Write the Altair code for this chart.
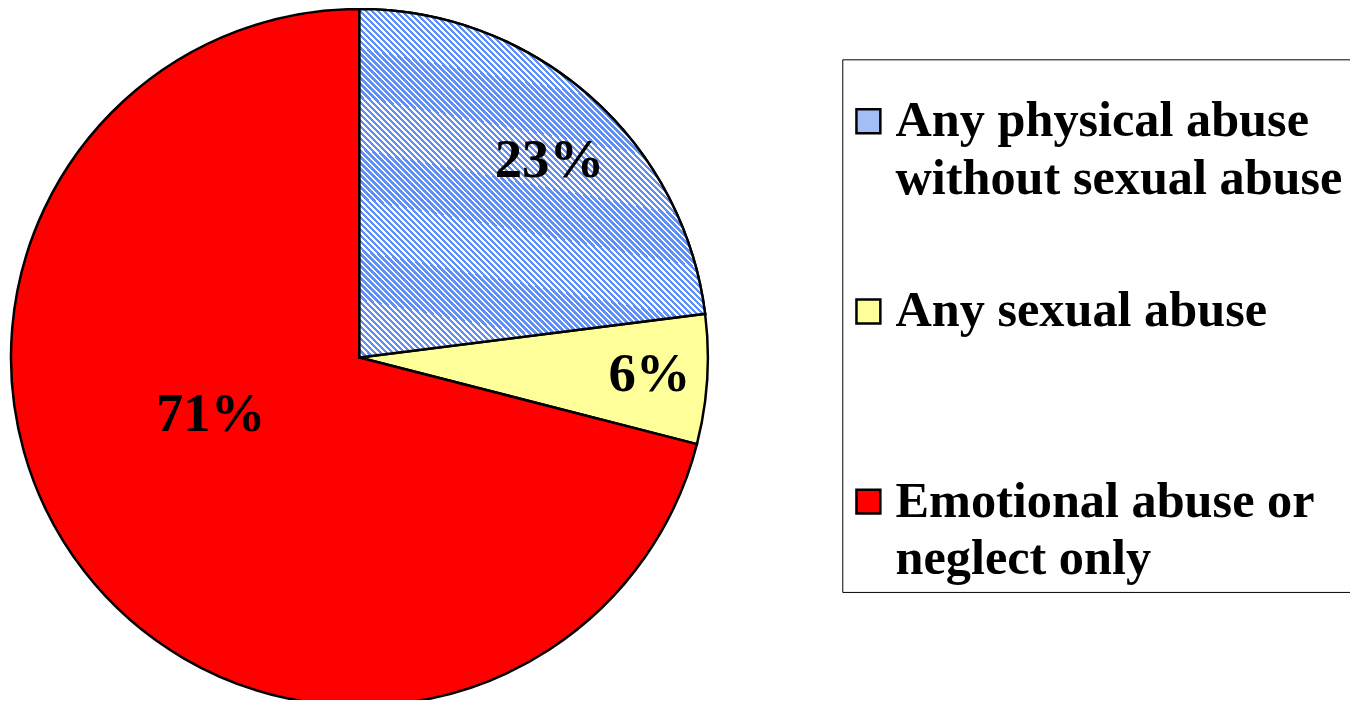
import altair as alt
import pandas as pd

# ---- data ----
categories = [
    "Any physical abuse\nwithout sexual abuse",
    "Any sexual abuse",
    "Emotional abuse or\nneglect only",
]
values = [23, 6, 71]
labels = ["23%", "6%", "71%"]
order = [0, 1, 2]

# ---- styles ----
colors = ["#a3bdf5", "#ffff99", "#ff0000"]
stripe_blue = "#6090f7"
N = 115
FRAC = 0.58
stops = []
for i in range(N):
    a, m, b = i / N, (i + FRAC) / N, (i + 1) / N
    stops += [
        {"offset": a, "color": stripe_blue},
        {"offset": m, "color": stripe_blue},
        {"offset": m, "color": "#ffffff"},
        {"offset": b, "color": "#ffffff"},
    ]
stripe_fill = {"gradient": "linear", "x1": 0, "y1": 1, "x2": 1, "y2": 0, "stops": stops}

df = pd.DataFrame({"category": categories, "value": values, "label": labels, "order": order})

base = (
    alt.Chart(df)
    .transform_window(cum="sum(value)", sort=[alt.SortField("order")], frame=[None, 0])
    .transform_joinaggregate(total="sum(value)")
    .transform_calculate(
        start="2*PI*(datum.cum - datum.value)/datum.total",
        end="2*PI*datum.cum/datum.total",
        mid="PI*(2*datum.cum - datum.value)/datum.total",
    )
)

R = 350
FONT = "Liberation Serif"

legend = alt.Legend(
    orient="none",
    legendX=838,
    legendY=50,
    title=" ",
    titleFontSize=22,
    titlePadding=8,
    symbolType="square",
    symbolSize=576,
    symbolStrokeColor="black",
    symbolStrokeWidth=2.5,
    symbolOpacity=1,
    symbolOffset=-6,
    labelFont=FONT,
    labelFontWeight="bold",
    labelFontSize=50.5,
    labelColor="black",
    labelLimit=1000,
    labelOffset=2,
    labelBaseline="middle",
    labelExpr="length(split(datum.label, '\\n')) > 1 ? split(datum.label, '\\n') : [datum.label, '']",
    rowPadding=82,
    padding=7,
    strokeColor="black",
    fillColor="white",
)

pie = base.mark_arc(radius=R, stroke="black", strokeWidth=2.5).encode(
    theta=alt.Theta("start:Q", scale=None),
    theta2="end:Q",
    fill=alt.Fill(
        "category:N",
        scale=alt.Scale(domain=categories, range=colors),
        sort=categories,
        legend=legend,
    ),
)

stripes = (
    base.transform_filter(alt.datum.order == 0)
    .mark_arc(radius=R, stroke="black", strokeWidth=2.5, fill=stripe_fill)
    .encode(theta=alt.Theta("start:Q", scale=None), theta2="end:Q")
)


def label_layer(i, r, dx, dy):
    return (
        base.transform_filter(alt.datum.order == i)
        .mark_text(
            radius=r, dx=dx, dy=dy, font=FONT, fontWeight="bold", fontSize=55,
            baseline="middle", align="center", color="black",
        )
        .encode(theta=alt.Theta("mid:Q", scale=None), text="label:N")
    )


chart = (
    alt.layer(
        pie,
        stripes,
        label_layer(0, 275, 9, 8),
        label_layer(1, 292, 0, -2),
        label_layer(2, 160, -23, -41),
    )
    .properties(
        width=706,
        height=699,
        padding={"left": 0, "top": 0, "right": 642, "bottom": -7},
        autosize=alt.AutoSizeParams(type="none"),
        background="white",
    )
    .configure(style={"guide-label": {"lineHeight": 58}})
    .configure_view(strokeOpacity=0)
)

chart.save("out.html", embed_options={"renderer": "svg", "actions": False})
